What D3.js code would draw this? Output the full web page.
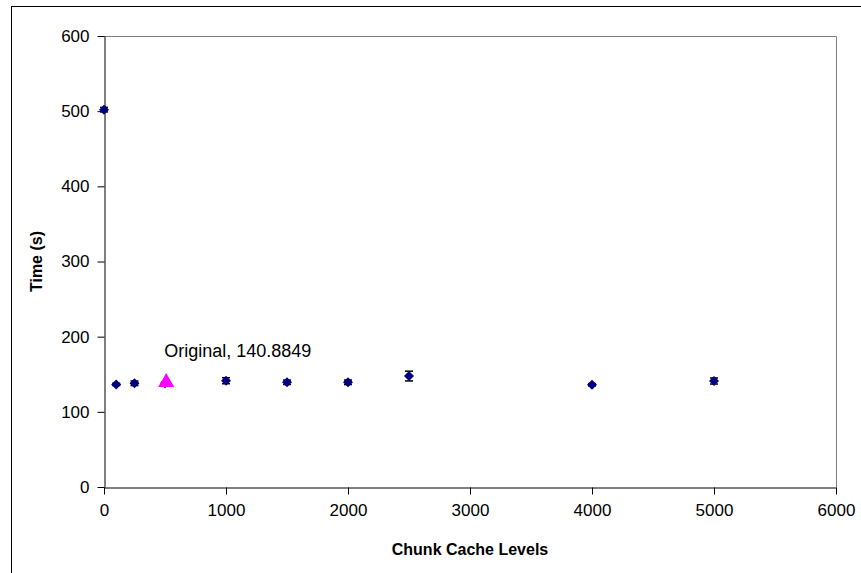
<!DOCTYPE html>
<html>
<head>
<meta charset="utf-8">
<script src="https://cdn.jsdelivr.net/npm/d3@7"></script>
<style>
body{margin:0;background:#fff;}
text{font-family:"Liberation Sans",Arial,sans-serif;}
</style>
</head>
<body>
<script>
// chunk cache levels and timing (s)
var levels = [0, 100, 250, 500, 1000, 1500, 2000, 2500, 4000, 5000];
var times  = [502, 136.5, 138, 138, 141.4, 139.3, 139.3, 147.6, 136, 141];
var errs   = [3, 1.5, 3, 2, 4, 3, 3, 6.5, 1.5, 4];
var origLevel = [510];
var origTime = [140.8849];
var origLabel = ["Original, 140.8849"];
var xTicks = [0, 1000, 2000, 3000, 4000, 5000, 6000];
var yTicks = [0, 100, 200, 300, 400, 500, 600];

var W = 861, H = 573;
var pL = 104, pR = 836, pT = 36, pB = 487;

var svg = d3.select("body").append("svg")
    .attr("width", W)
    .attr("height", H);

// outer chart frame (runs off right/bottom)
svg.append("rect")
    .attr("x", 11.5).attr("y", 6.5)
    .attr("width", 900).attr("height", 700)
    .attr("fill", "none").attr("stroke", "#000");

var x = d3.scaleLinear().domain([0, 6000]).range([pL, pR]);
var y = d3.scaleLinear().domain([0, 600]).range([pB, pT]);

// plot area top/right edges
svg.append("path")
    .attr("d", "M" + pL + "," + (pT + 0.5) + "H" + (pR + 0.5) + "V" + pB)
    .attr("fill", "none").attr("stroke", "#808080");

var xAxis = svg.append("g")
    .attr("transform", "translate(0," + (pB + 0.5) + ")")
    .call(d3.axisBottom(x).tickValues(xTicks).tickFormat(d3.format("d"))
        .tickSizeOuter(0).tickSizeInner(7).tickPadding(6));
var yAxis = svg.append("g")
    .attr("transform", "translate(" + (pL + 0.5) + ",0)")
    .call(d3.axisLeft(y).tickValues(yTicks).tickFormat(d3.format("d"))
        .tickSizeOuter(0).tickSizeInner(7).tickPadding(8));

svg.selectAll(".domain, .tick line").attr("stroke", "#000");
svg.selectAll(".tick text").attr("font-size", 17).attr("fill", "#000")
    .style("font-family", "'Liberation Sans',Arial,sans-serif");
xAxis.selectAll(".tick text").attr("dy", "0.9em");

// error bars
var data = levels.map(function (d, i) { return {x: d, y: times[i], e: errs[i]}; });
var eb = svg.append("g").attr("stroke", "#000").attr("stroke-width", 1.5);
data.forEach(function (d) {
    var cx = x(d.x);
    eb.append("line").attr("x1", cx).attr("x2", cx)
        .attr("y1", y(d.y - d.e)).attr("y2", y(d.y + d.e));
    [d.y - d.e, d.y + d.e].forEach(function (v) {
        eb.append("line").attr("x1", cx - 4).attr("x2", cx + 4)
            .attr("y1", y(v)).attr("y2", y(v));
    });
});

// diamonds
svg.append("g").selectAll("path")
    .data(data)
    .enter().append("path")
    .attr("d", "M0,-5L5,0L0,5L-5,0Z")
    .attr("transform", function (d) { return "translate(" + x(d.x) + "," + y(d.y) + ")"; })
    .attr("fill", "#000080");

// original marker
svg.append("g").selectAll("path")
    .data(origLevel)
    .enter().append("path")
    .attr("d", "M0,-8L8,6L-8,6Z")
    .attr("transform", function (d, i) { return "translate(" + x(d) + "," + y(origTime[i]) + ")"; })
    .attr("fill", "#FF00FF");

svg.append("text")
    .attr("x", x(origLevel[0]) - 2)
    .attr("y", y(origTime[0]) - 24)
    .attr("font-size", 18)
    .text(origLabel[0]);

// axis titles
svg.append("text")
    .attr("x", (pL + pR) / 2).attr("y", 555)
    .attr("text-anchor", "middle")
    .attr("font-size", 16).attr("font-weight", "bold")
    .text("Chunk Cache Levels");

svg.append("text")
    .attr("transform", "translate(42," + ((pT + pB) / 2) + ") rotate(-90)")
    .attr("text-anchor", "middle")
    .attr("font-size", 16).attr("font-weight", "bold")
    .text("Time (s)");
</script>
</body>
</html>
